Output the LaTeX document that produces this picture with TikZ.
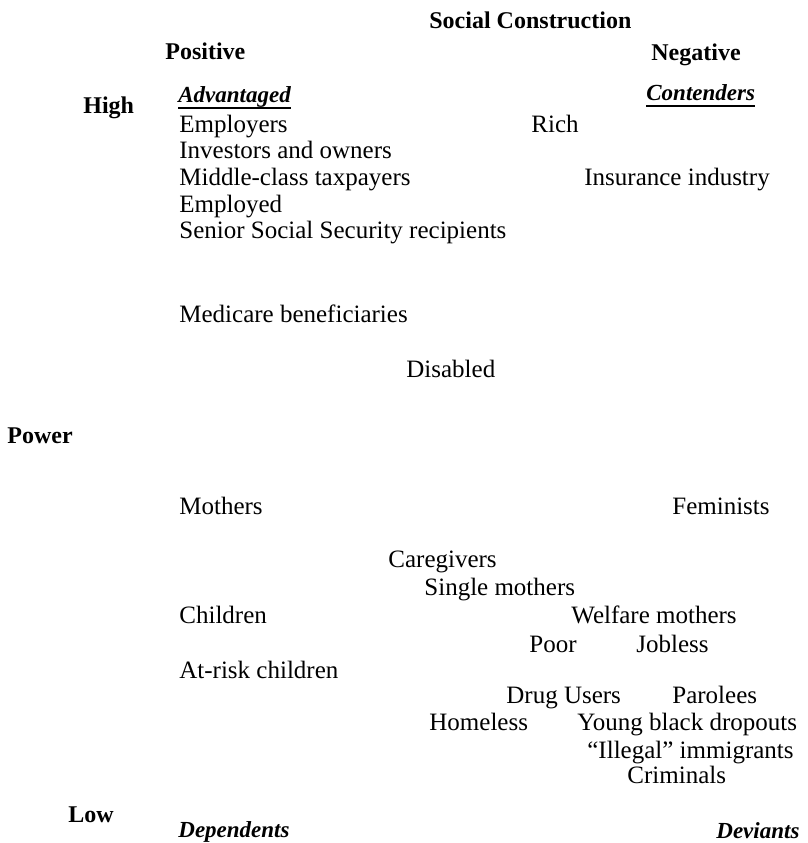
\documentclass[tikz,border=0pt]{standalone}
\usepackage{fontspec}
\setmainfont{Liberation Serif}
\begin{document}
\begin{tikzpicture}[x=0.5pt,y=-0.5pt,
  lbl/.style={anchor=base west,inner sep=0pt,font=\fontsize{12.5}{15}\selectfont},
  hdr/.style={anchor=base west,inner sep=0pt,font=\fontsize{12}{14}\selectfont\bfseries},
  cat/.style={anchor=base west,inner sep=0pt,font=\fontsize{11.5}{14}\selectfont\bfseries\itshape},
  uline/.style={line width=0.6pt}]
\useasboundingbox (0,0) rectangle (808,843);
% headers
\node[hdr] (sc) at (429,28) {Social Construction};
\node[hdr] (pos) at (165,59) {Positive};
\node[hdr] (neg) at (651,60) {Negative};
\node[hdr] (high) at (83,113) {High};
\node[hdr] (power) at (7,443) {Power};
\node[hdr] (low) at (68,822) {Low};
% categories
\node[cat] (adv) at (178,102) {Advantaged};
\node[cat] (con) at (646,100) {Contenders};
\node[cat] (dep) at (178,837) {Dependents};
\node[cat] (dev) at (716,838) {Deviants};
\draw[uline] ([yshift=-3pt]adv.base west) -- ([yshift=-3pt]adv.base east);
\draw[uline] ([yshift=-3pt]con.base west) -- ([yshift=-3pt]con.base east);
% groups
\node[lbl] (emp) at (179,132) {Employers};
\node[lbl] (inv) at (179,158) {Investors and owners};
\node[lbl] (mid) at (179,185) {Middle-class taxpayers};
\node[lbl] (empd) at (179,212) {Employed};
\node[lbl] (sen) at (179,238) {Senior Social Security recipients};
\node[lbl] (rich) at (531,132) {Rich};
\node[lbl] (ins) at (584,185) {Insurance industry};
\node[lbl] (med) at (179,322) {Medicare beneficiaries};
\node[lbl] (dis) at (406,377) {Disabled};
\node[lbl] (moth) at (179,514) {Mothers};
\node[lbl] (fem) at (672,514) {Feminists};
\node[lbl] (care) at (388,567) {Caregivers};
\node[lbl] (sing) at (424,595) {Single mothers};
\node[lbl] (chil) at (179,623.5) {Children};
\node[lbl] (welf) at (571,623.5) {Welfare mothers};
\node[lbl] (poor) at (529,652) {Poor};
\node[lbl] (job) at (636,652) {Jobless};
\node[lbl] (atr) at (179,678) {At-risk children};
\node[lbl] (drug) at (506,703) {Drug Users};
\node[lbl] (par) at (672,703) {Parolees};
\node[lbl] (home) at (429,730) {Homeless};
\node[lbl] (ybd) at (577,730) {Young black dropouts};
\node[lbl] (ill) at (587,758) {“Illegal” immigrants};
\node[lbl] (crim) at (627,783) {Criminals};
\end{tikzpicture}
\end{document}
